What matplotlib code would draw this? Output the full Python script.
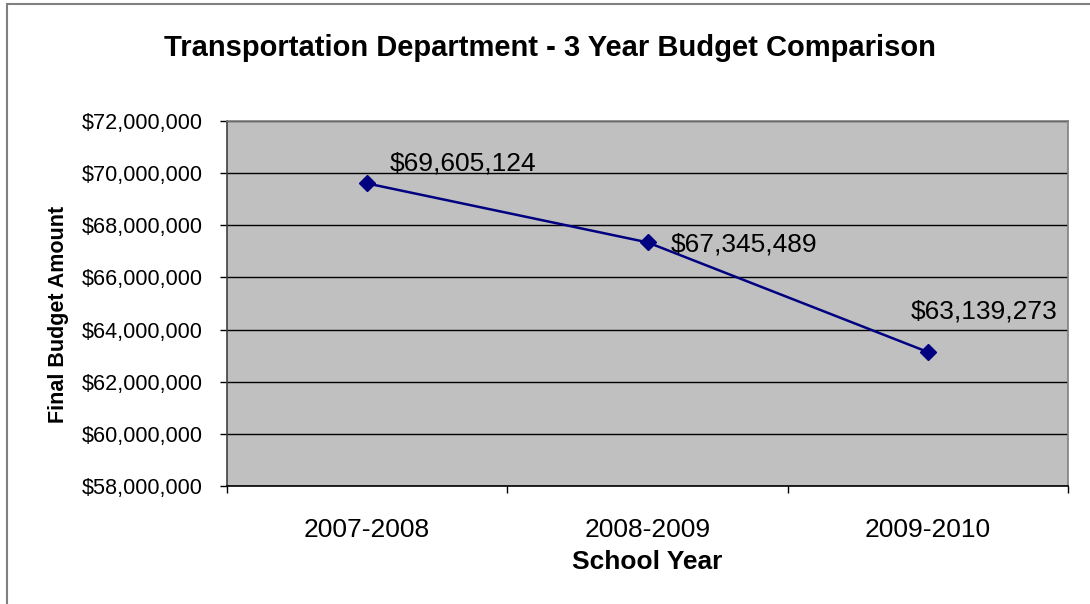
import numpy as np
import matplotlib
matplotlib.use("Agg")
import matplotlib.pyplot as plt
from matplotlib.patches import Rectangle
from matplotlib.ticker import FuncFormatter, FixedLocator

school_years = ["2007-2008", "2008-2009", "2009-2010"]
budget = [69605124, 67345489, 63139273]
# per-label offsets (pixels) for the value labels
label_offsets = [(23, 20), (23, -2), (-17, 41)]

plt.rcParams["font.family"] = ["Liberation Sans", "DejaVu Sans"]

fig = plt.figure(figsize=(10.9, 6.04), dpi=100)
fig.patch.set_facecolor("white")
fig.add_artist(Rectangle((7 / 1090, -0.1), 1.2, 1 - 4 / 604 + 0.1,
                         transform=fig.transFigure, fill=False,
                         edgecolor="#808080", lw=1.5))

ax = fig.add_axes([227 / 1090, 1 - 486 / 604, (1068 - 227) / 1090, (486 - 121) / 604])
ax.set_facecolor("#C0C0C0")

x = np.arange(len(school_years))
ax.plot(x, budget, color="#000080", lw=1.8, marker="D", ms=8.5, zorder=3)

for xi, val, (dx, dy) in zip(x, budget, label_offsets):
    ax.annotate(f"${val:,.0f}", (xi, val), xytext=(dx, dy), textcoords="offset pixels",
                ha="left", va="center", fontsize=19, color="black")

ax.set_xlim(-0.5, len(school_years) - 0.5)
ax.set_ylim(58_000_000, 72_000_000)
ax.set_yticks(np.arange(58_000_000, 72_000_001, 2_000_000))
ax.yaxis.set_major_formatter(FuncFormatter(lambda v, p: f"${v:,.0f}"))
ax.grid(axis="y", color="black", lw=1.0)
ax.set_axisbelow(True)

# category boundaries get the tick marks, centres get the labels
ax.xaxis.set_major_locator(FixedLocator(np.arange(-0.5, len(school_years), 1.0)))
ax.xaxis.set_minor_locator(FixedLocator(x))
ax.set_xticklabels([])
ax.set_xticklabels(school_years, minor=True)
ax.tick_params(axis="x", which="major", direction="out", length=5, width=1, color="black")
ax.tick_params(axis="x", which="minor", length=0, pad=23, labelsize=19)
ax.tick_params(axis="y", direction="out", length=5, width=1, color="black", labelsize=15.6, pad=12.5)

for side in ("top", "right"):
    ax.spines[side].set_color("#808080")
    ax.spines[side].set_linewidth(1.2)
ax.spines["left"].set_color("#404040")
ax.spines["bottom"].set_color("black")
ax.spines["left"].set_linewidth(1.2)
ax.spines["bottom"].set_linewidth(1.2)

ax.set_xlabel("School Year", fontsize=19, fontweight="bold", labelpad=6)
ax.set_ylabel("Final Budget Amount", fontsize=15.5, fontweight="bold")
ax.yaxis.set_label_coords(-0.1879, 0.471)
fig.text(550 / 1090, 1 - 48 / 604, "Transportation Department - 3 Year Budget Comparison",
         ha="center", va="center", fontsize=21, fontweight="bold")

fig.savefig("out.png", dpi=100, facecolor="white")
